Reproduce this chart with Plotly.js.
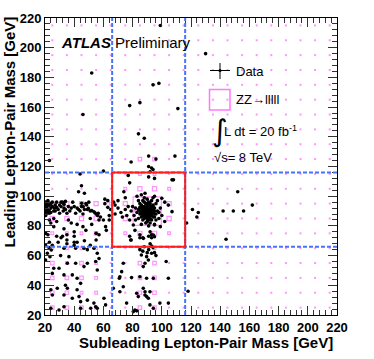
<!DOCTYPE html>
<html>
<head>
<meta charset="utf-8">
<script src="https://cdn.plot.ly/plotly-3.0.1.min.js"></script>
<style>
html, body { margin: 0; padding: 0; background: #fff; }
#chart { width: 374px; height: 359px; }
</style>
</head>
<body>
<div id="chart"></div>
<script>
// axis ticks (GeV)
const massTicks = [20, 40, 60, 80, 100, 120, 140, 160, 180, 200, 220];

// ZZ->llll MC, 10 GeV bins; centres shared by both axes
const zzBinCentres = [25, 35, 45, 55, 65, 75, 85, 95, 105, 115, 125, 135, 145, 155, 165, 175, 185, 195, 205, 215];

// relative bin content, one row per leading-mass bin (25 at top of list -> 215 at bottom)
const zzContent = [
    [2.5, 2.5, 2.5, 1.5, 0.5, 0.5, 2.5, 2.5, 0.5, 0.5, 0.5, 0.5, 0.5, 0.5, 0.5, 0.5, 0.5, 0.5, 0.5, 0.5],
    [2.5, 2.5, 1.5, 1.5, 0.5, 0.5, 2.5, 2.5, 0.5, 0.5, 0.5, 0.5, 0.5, 0.5, 0.5, 0.5, 0.5, 0.5, 0.5, 0.5],
    [2.5, 2.5, 2.5, 1.5, 0.5, 0.5, 2.5, 2.5, 0.5, 0.5, 0.5, 0.5, 0.5, 0.5, 0.5, 0.5, 0.5, 0.5, 0.5, 0.5],
    [2.5, 1.5, 2.5, 1.5, 0.5, 0.5, 2.5, 2.5, 0.5, 0.5, 0.5, 0.5, 0.5, 0.5, 0.5, 0.5, 0.5, 0.5, 0.5, 0.5],
    [1.5, 1.5, 1.5, 1.5, 0.5, 0.5, 1.5, 1.5, 0.5, 0.5, 0.5, 0.5, 0.5, 0.5, 0.5, 0.5, 0.5, 0.5, 0.5, 0.5],
    [1.5, 1.5, 1.5, 2.5, 0.5, 1.5, 3.5, 3.5, 1.5, 0.5, 0.5, 0.5, 0.5, 0.5, 0.5, 0.5, 0.5, 0.5, 0.5, 0.5],
    [3.5, 3.5, 3.5, 3.5, 1.5, 3.5, 38, 38, 3.5, 0.5, 0.5, 0.5, 0.5, 0.5, 0.5, 0.5, 0.5, 0.5, 0.5, 0.5],
    [3.5, 3.5, 3.5, 3.5, 1.5, 3.5, 38, 38, 3.5, 0.5, 0.5, 0.5, 0.5, 0.5, 0.5, 0.5, 0.5, 0.5, 0.5, 0.5],
    [0.5, 0.5, 0.5, 0.5, 0.5, 1.5, 3.5, 3.5, 1.5, 0.5, 0.5, 0.5, 0.5, 0.5, 0.5, 0.5, 0.5, 0.5, 0.5, 0.5],
    [0.5, 0.5, 0.5, 0.5, 0.5, 0.5, 1.5, 1.5, 0.5, 0.5, 0.5, 0.5, 0.5, 0.5, 0.5, 0.5, 0.5, 0.5, 0.5, 0.5],
    [0.5, 0.5, 0.5, 0.5, 0.5, 0.5, 2.5, 2.5, 0.5, 0.5, 0.5, 0.5, 0.5, 0.5, 0.5, 0.5, 0.5, 0.5, 0.5, 0.5],
    [0.5, 0.5, 0.5, 0.5, 0.5, 0.5, 0.5, 0.5, 0.5, 0.5, 0.5, 0.5, 0.5, 0.5, 0.5, 0.5, 0.5, 0.5, 0.5, 0.5],
    [0.5, 0.5, 0.5, 0.5, 0.5, 0.5, 0.5, 0.5, 0.5, 0.5, 0.5, 0.5, 0.5, 0.5, 0.5, 0.5, 0.5, 0.5, 0.5, 0.5],
    [0.5, 0.5, 0.5, 0.5, 0.5, 0.5, 0.5, 0.5, 0.5, 0.5, 0.5, 0.5, 0.5, 0.5, 0.5, 0.5, 0.5, 0.5, 0.5, 0.5],
    [0.5, 0.5, 0.5, 0.5, 0.5, 0.5, 0.5, 0.5, 0.5, 0.5, 0.5, 0.5, 0.5, 0.5, 0.5, 0.5, 0.5, 0.5, 0.5, 0.5],
    [0.5, 0.5, 0.5, 0.5, 0.5, 0.5, 0.5, 0.5, 0.5, 0.5, 0.5, 0.5, 0.5, 0.5, 0.5, 0.5, 0.5, 0.5, 0.5, 0.5],
    [0.5, 0.5, 0.5, 0.5, 0.5, 0.5, 0.5, 0.5, 0.5, 0.5, 0.5, 0.5, 0.5, 0.5, 0.5, 0.5, 0.5, 0.5, 0.5, 0.5],
    [0.5, 0.5, 0.5, 0.5, 0.5, 0.5, 0.5, 0.5, 0.5, 0.5, 0.5, 0.5, 0.5, 0.5, 0.5, 0.5, 0.5, 0.5, 0.5, 0.5],
    [0.5, 0.5, 0.5, 0.5, 0.5, 0.5, 0.5, 0.5, 0.5, 0.5, 0.5, 0.5, 0.5, 0.5, 0.5, 0.5, 0.5, 0.5, 0.5, 0.5],
    [0.5, 0.5, 0.5, 0.5, 0.5, 0.5, 0.5, 0.5, 0.5, 0.5, 0.5, 0.5, 0.5, 0.5, 0.5, 0.5, 0.5, 0.5, 0.5, 0.5]
];

// data events [subleading, leading] in GeV
const dataPoints = [
    // above the Z window
    [99, 215], [130, 196], [52, 183], [94, 175], [98, 176], [46, 155], [78, 161], [85, 163], [111, 159],
    [84, 142], [88, 139], [91, 127], [96, 125], [109, 127], [79, 123], [91, 120], [94, 118], [23, 124],
    [60, 117], [44, 115], [77, 114], [91, 113], [107, 111],
    // right side
    [117, 82], [121, 91], [125, 89], [124, 86], [142, 90], [149, 90], [152, 103], [156, 90], [162, 94],
    [144, 71], [118, 36],
    // low subleading, on-shell leading
    [45, 107], [43, 103], [47, 102], [61, 98], [22, 97], [20.3, 96], [21, 95], [23, 94], [24, 95], [25, 93],
    [20.5, 92], [22, 91], [23, 91], [24, 92], [26, 90], [21, 89], [23, 88.5], [20.5, 87], [28, 96], [31, 96],
    [32, 96], [30, 94], [31, 93], [33, 92], [29, 91], [32.5, 90], [34, 91], [35, 88.5], [30, 88.5], [36, 93],
    [39, 96], [40, 93], [42, 92], [41, 88.5], [43, 91], [44, 90], [47, 91], [49, 91], [51, 90], [53.5, 89.5],
    [55, 88], [56, 87], [58, 86], [57, 84], [48, 95], [50, 96], [61, 95], [63, 92.5], [65, 91], [64, 87],
    [51, 85], [52, 81], [60, 84], [61.5, 79.5], [24, 82], [26, 79.5], [28, 83], [36, 84], [38, 82], [33, 78],
    [42, 81], [46, 79.5], [48, 77], [40, 76], [35, 74], [55, 75], [57, 74], [28, 73], [20.5, 75],
    [23, 84], [26, 85], [22, 74], [23, 69], [25, 67], [29, 69], [31, 72], [35, 68], [40, 67], [47, 70],
    [51, 67], [55, 70.5], [62, 77], [20.5, 90], [21.5, 93], [22.5, 89.5], [24, 89], [25, 96], [26.5, 92],
    [27, 94], [22, 96], [20.8, 94], [27, 90], [28, 92.5], [33, 94.5], [34, 96.5], [37, 90], [38, 92],
    [45, 93], [46, 88], [45.1, 95.2], [46.2, 92.9], [48.5, 94.1], [49.7, 91.8], [52, 90.3], [54.2, 88.9],
    [56.5, 88.5],
    // both off-shell
    [32, 73], [40, 73], [40, 69], [35, 70.5], [42, 69], [20.4, 67], [22.7, 65.4], [24.3, 63.8], [21.6, 61.6],
    [23.4, 59.3], [20.4, 57], [33, 65], [41, 65], [46.7, 65], [49, 64], [53.5, 65], [55.8, 61.6], [57, 58],
    [54.7, 56], [30.7, 60], [36.4, 59.3], [35.3, 54.8], [41, 54.8], [46.7, 52.6], [49, 54.8], [55.8, 50.3],
    [26, 51.5], [29.6, 51.5], [25, 48], [33, 47], [38.7, 47], [42, 44.7], [44.4, 41.3], [34, 40], [35.3, 38],
    [28.4, 38], [24, 37], [25, 33.5], [33, 33.5], [38.7, 31.3], [42, 37], [43.3, 32.4], [44.4, 29], [49, 30],
    [53.5, 28], [54.7, 25.6], [55.8, 24.5], [51.3, 24.5], [61.5, 26.8], [60.4, 31.3], [44.4, 24.5], [33, 25.6],
    [24, 24.5], [29.6, 23.4],
    // on-shell subleading, low leading
    [78, 73], [85, 72], [87, 72], [91, 73], [93, 72], [79, 70.5], [85, 64], [87, 63], [86, 60.4], [94, 65.4],
    [93, 61.6], [89.6, 59.3], [90.8, 57], [88.5, 54.8], [87.3, 52.6], [103, 56], [73.6, 54.8], [72.5, 49.2],
    [71.3, 45.8], [70.9, 44.7], [79.3, 45.2], [85, 45.8], [94.2, 44.7], [104.5, 44.7], [89.6, 44.7], [73.6, 39],
    [71.3, 35.7], [82.8, 34.6], [87.3, 38], [88.5, 35.7], [88.5, 33.5], [89.6, 32.4], [90.8, 31.3], [83.9, 32.4],
    [91.9, 35.7], [66.8, 38], [75.9, 28], [80.5, 22.3], [81.6, 23.4], [82.8, 22.8], [91.9, 26.8], [98.7, 28],
    [104.5, 28], [94.2, 24.5], [92, 68], [93, 66.5], [91, 64], [95, 62], [96, 60], [90, 62], [88, 66],
    [78.7, 70.5], [94.2, 73.9],
    // inside the ZZ window, away from the peak
    [93, 119], [95, 112], [108, 111], [92, 116.5], [78, 109], [74, 103], [70, 97], [68, 94], [75, 99], [77, 93],
    [83, 100], [86, 101], [88.5, 102], [95, 100], [100, 98.6], [102, 96], [104.5, 94], [107, 89.6], [76, 87],
    [78, 84], [80.5, 80.6], [81.6, 77], [85, 74], [92, 76], [93, 74], [95, 72.7], [87.4, 71.6], [102, 83],
    [99, 79.5], [95, 80.6], [67, 96], [70, 92], [72, 89], [75, 91], [79, 90], [80, 93], [73, 86], [68, 88],
    [63, 97], [64, 84],
    // ZZ peak
    [88, 89], [89, 90], [90, 89], [91, 90], [92, 89], [90, 91], [89, 88], [91, 88], [90, 87], [88, 91],
    [92, 91], [93, 90], [87, 90], [86, 89], [94, 89], [90, 92], [89, 92], [91, 92], [92, 93], [88, 93],
    [90, 86], [89, 86], [91, 86], [87, 87], [93, 87], [94, 91], [86, 91], [85, 90], [95, 90], [90, 94],
    [91, 84], [88, 85], [92, 85], [94, 86], [86, 86], [87, 93], [93, 93], [95, 92], [85, 88], [96, 88],
    [89, 95], [92, 95], [84, 91], [97, 90], [90, 83], [93, 84], [87, 84], [95, 86], [86, 94], [94, 94],
    [91, 96], [88, 96], [83, 89], [98, 89], [89, 82], [92, 82], [96, 84], [84, 85], [85, 95], [96, 95],
    [93, 97], [87, 97], [82, 92], [99, 92], [90, 98], [91, 80], [95, 81], [86, 81], [84, 97], [97, 97],
    [100, 87], [81, 87], [88, 99], [94, 99], [98, 85], [82, 84], [89, 89.5], [90.5, 88.5], [91.5, 89.5],
    [88.5, 90.5], [90, 90], [89.5, 87.5], [91, 91], [92.5, 88], [87.5, 88.5], [90.5, 93], [88, 87], [93, 92],
    [92, 87], [87, 92], [85, 92.5], [95, 88], [90, 85], [90, 95], [86, 88], [94, 93]
];

// Z window and sideband edges (GeV)
const zWindow = [66, 116];

const FONT = 'Liberation Sans, Arial, Helvetica, sans-serif';
const MAGENTA = '#ff66ff';

// plot frame in page pixels, used to place the text blocks
const frame = { left: 45, right: 337, top: 18, bottom: 315 };
const px2x = px => (px - frame.left) / (frame.right - frame.left);
const py2y = py => (frame.bottom - py) / (frame.bottom - frame.top);

// ROOT "box" style: nearly empty bins show up as tiny filled dots
const zzX = [], zzY = [], zzSize = [], zzSymbol = [], zzLine = [];
zzContent.forEach((row, j) => {
    row.forEach((v, i) => {
        zzX.push(zzBinCentres[i]);
        zzY.push(zzBinCentres[j]);
        const s = 14 * Math.sqrt(v / 40);
        if (s < 2.5) {
            zzSize.push(2);
            zzSymbol.push('square');
            zzLine.push(0);
        } else {
            zzSize.push(s);
            zzSymbol.push('square-open');
            zzLine.push(1.2);
        }
    });
});

const traces = [
    {
        x: zzX,
        y: zzY,
        mode: 'markers',
        type: 'scatter',
        marker: { symbol: zzSymbol, size: zzSize, color: MAGENTA, line: { width: zzLine, color: MAGENTA } },
        hoverinfo: 'skip'
    },
    {
        x: dataPoints.map(p => p[0]),
        y: dataPoints.map(p => p[1]),
        mode: 'markers',
        type: 'scatter',
        marker: { symbol: 'circle', size: 3.6, color: '#000' }
    }
];

const blue = 'rgb(70,115,250)';
const dashLine = (x0, y0, x1, y1) => ({
    type: 'line', xref: 'x', yref: 'y', x0, y0, x1, y1,
    line: { color: blue, width: 2, dash: '4px,2px' }
});

const axisBase = {
    range: [20, 220],
    tickmode: 'array',
    tickvals: massTicks,
    ticks: 'inside',
    ticklen: 9,
    tickwidth: 1,
    tickcolor: '#333',
    minor: { dtick: 4, tick0: 20, ticks: 'inside', ticklen: 5, tickwidth: 1, tickcolor: '#333' },
    showline: true,
    linecolor: '#000',
    linewidth: 1,
    mirror: 'allticks',
    showgrid: false,
    zeroline: false,
    tickfont: { family: FONT, size: 13, weight: 'bold', color: '#000' }
};

const layout = {
    width: 374,
    height: 359,
    margin: { l: 45, r: 37, t: 18, b: 44 },
    paper_bgcolor: '#fff',
    plot_bgcolor: '#fff',
    showlegend: false,
    xaxis: Object.assign({}, axisBase),
    yaxis: Object.assign({}, axisBase),
    shapes: [
        dashLine(zWindow[0], 20, zWindow[0], 220),
        dashLine(zWindow[1], 20, zWindow[1], 220),
        dashLine(20, zWindow[0], 220, zWindow[0]),
        dashLine(20, zWindow[1], 220, zWindow[1]),
        {
            type: 'rect', xref: 'x', yref: 'y',
            x0: zWindow[0], x1: zWindow[1], y0: zWindow[0], y1: zWindow[1],
            line: { color: 'rgb(255,30,30)', width: 2 }
        },
        // legend: data cross
        { type: 'line', xref: 'paper', yref: 'paper', x0: px2x(210), x1: px2x(230), y0: py2y(70.5), y1: py2y(70.5),
          line: { color: '#000', width: 1 } },
        { type: 'line', xref: 'paper', yref: 'paper', x0: px2x(220), x1: px2x(220), y0: py2y(63), y1: py2y(79),
          line: { color: '#000', width: 1 } },
        { type: 'circle', xref: 'paper', yref: 'paper', x0: px2x(218.5), x1: px2x(221.5), y0: py2y(69), y1: py2y(72),
          fillcolor: '#000', line: { width: 0 } },
        // legend: ZZ box
        { type: 'rect', xref: 'paper', yref: 'paper', x0: px2x(209.5), x1: px2x(230), y0: py2y(110), y1: py2y(89.5),
          line: { color: '#ff77ff', width: 1.5 } }
    ],
    annotations: [
        {
            xref: 'paper', yref: 'paper', x: px2x(335), y: py2y(342), xanchor: 'right', yanchor: 'middle',
            text: 'Subleading Lepton-Pair Mass [GeV]', showarrow: false,
            font: { family: FONT, size: 15, weight: 'bold', color: '#000' }
        },
        {
            xref: 'paper', yref: 'paper', x: px2x(9), y: py2y(15), xanchor: 'center', yanchor: 'top',
            textangle: -90, text: 'Leading Lepton-Pair Mass [GeV]', showarrow: false,
            font: { family: FONT, size: 15, weight: 'bold', color: '#000' }
        },
        {
            xref: 'paper', yref: 'paper', x: px2x(59), y: py2y(43), xanchor: 'left', yanchor: 'middle',
            text: '<b><i>ATLAS</i></b> Preliminary', showarrow: false,
            font: { family: FONT, size: 15, color: '#000' }
        },
        {
            xref: 'paper', yref: 'paper', x: px2x(234), y: py2y(71), xanchor: 'left', yanchor: 'middle',
            text: 'Data', showarrow: false, font: { family: FONT, size: 13, color: '#000' }
        },
        {
            xref: 'paper', yref: 'paper', x: px2x(234), y: py2y(100), xanchor: 'left', yanchor: 'middle',
            text: 'ZZ→lllll', showarrow: false, font: { family: FONT, size: 13, color: '#000' }
        },
        {
            xref: 'paper', yref: 'paper', x: px2x(210), y: py2y(130), xanchor: 'left', yanchor: 'middle',
            text: '∫', showarrow: false, font: { family: 'DejaVu Sans, sans-serif', size: 30, color: '#000' }
        },
        {
            xref: 'paper', yref: 'paper', x: px2x(222), y: py2y(131), xanchor: 'left', yanchor: 'middle',
            text: 'L dt = 20 fb<sup>-1</sup>', showarrow: false, font: { family: FONT, size: 13, color: '#000' }
        },
        {
            xref: 'paper', yref: 'paper', x: px2x(212), y: py2y(157), xanchor: 'left', yanchor: 'middle',
            text: '√s= 8 TeV', showarrow: false, font: { family: FONT, size: 13, color: '#000' }
        }
    ]
};

Plotly.newPlot('chart', traces, layout, { displayModeBar: false, staticPlot: true });
</script>
</body>
</html>
